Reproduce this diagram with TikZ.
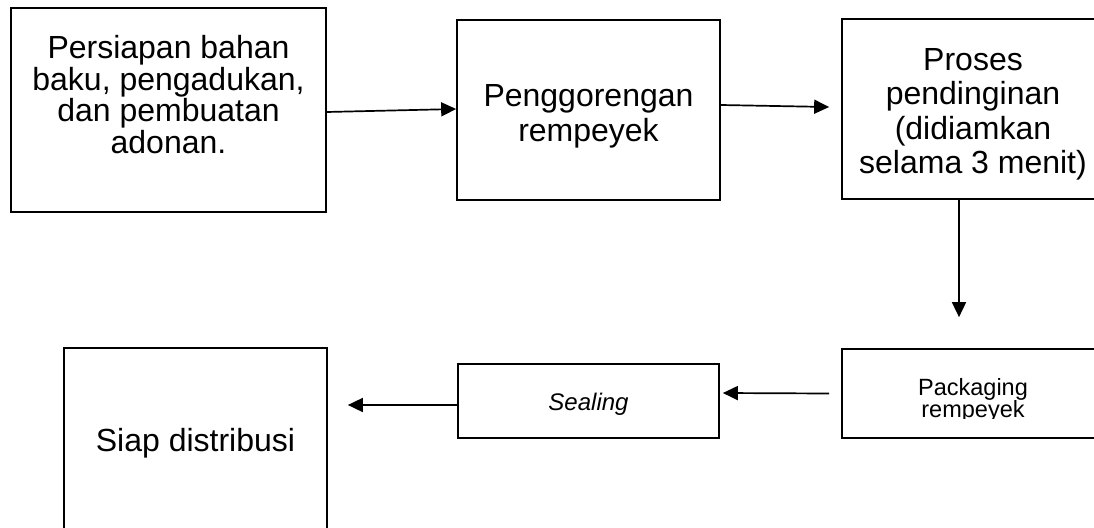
\documentclass[tikz,border=0pt]{standalone}
\usepackage{fontspec}
\setmainfont{Liberation Sans}
\usetikzlibrary{arrows.meta}
\begin{document}
\begin{tikzpicture}[x=1pt,y=-1pt,
  box/.style 2 args={draw, line width=1.7pt, inner sep=0pt, minimum width=#1, minimum height=#2},
  bigtxt/.style={inner sep=0pt, anchor=north, align=center, font=\fontsize{32}{#1}\selectfont},
  smalltxt/.style={inner sep=0pt, anchor=north, align=center, font=\fontsize{23.5}{#1}\selectfont},
  arr/.style={line width=1.7pt, -{Triangle[length=15pt,width=14pt]}}
]
\useasboundingbox (0,0) rectangle (1094,527);
\clip (0,0) rectangle (1094,527);
% boxes
\node[box={315pt}{204pt}] (b1) at (168.5,110) {};
\node[box={263pt}{180pt}] (b2) at (588.5,110) {};
\node[box={262pt}{180pt}] (b3) at (973,109) {};
\node[box={262pt}{89pt}] (b4) at (973,393.5) {};
\node[box={261pt}{74pt}] (b5) at (588.5,401) {};
\node[box={263pt}{184pt}] (b6) at (195.5,440) {};
% texts
\node[bigtxt=31.8pt] (t1) at (168.5,35) {Persiapan bahan\\baku, pengadukan,\\dan pembuatan\\adonan.};
\node[bigtxt=35pt] (t2) at (588.5,84) {Penggorengan\\rempeyek};
\node[bigtxt=34.5pt] (t3) at (973,48) {Proses\\pendinginan\\(didiamkan\\selama 3 menit)};
\begin{scope}
  \clip (842,349) rectangle (1094,418);
  \node[smalltxt=22pt] (t4) at (973,378) {Packaging\\rempeyek};
\end{scope}
\node[smalltxt=24pt, font=\fontsize{24}{24}\selectfont\itshape] (t5) at (588.5,393) {Sealing};
\node[bigtxt=36pt] (t6) at (195.5,428) {Siap distribusi};
% connectors
\draw[arr] ([yshift=-2pt]b1.east) -- ([yshift=1pt]b2.west);
\draw[arr] ([yshift=5pt]b2.east) -- ([xshift=-12pt,yshift=2pt]b3.west);
\draw[arr] ([xshift=-14pt]b3.south) -- ([xshift=-14pt,yshift=31pt]b4.north);
\draw[arr] ([xshift=-12pt]b4.west) -- ([xshift=3pt,yshift=8pt]b5.east);
\draw[arr] ([yshift=-4pt]b5.west) -- ([xshift=20pt,yshift=35pt]b6.east);
\end{tikzpicture}
\end{document}
